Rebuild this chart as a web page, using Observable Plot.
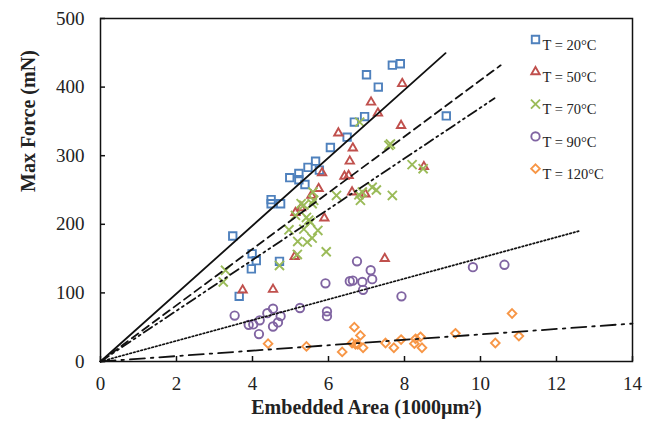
<!DOCTYPE html>
<html><head><meta charset="utf-8">
<script src="https://cdn.jsdelivr.net/npm/d3@7"></script>
<script src="https://cdn.jsdelivr.net/npm/@observablehq/plot@0.6"></script>
<style>body{margin:0;background:#fff}</style>
</head><body><div id="chart"></div>
<script>
// ---- data ----
const seriesNames = ["T = 20°C", "T = 50°C", "T = 70°C", "T = 90°C", "T = 120°C"];
const xTicks = [0, 2, 4, 6, 8, 10, 12, 14];
const yTicks = [0, 100, 200, 300, 400, 500];
const xTitle = "Embedded Area (1000µm²)";
const yTitle = "Max Force (mN)";

const pts20 = [[3.48,183],[3.65,95],[3.99,157],[4.10,147],[3.97,135],[4.49,236],[4.49,230],[4.74,230],[4.71,146],
  [4.98,268],[5.22,274],[5.22,265],[5.38,258],[5.46,283],[5.66,292],[5.76,279],[6.05,312],[6.49,327],[6.68,349],
  [6.95,357],[7.0,418],[7.31,400],[7.68,432],[7.89,434],[9.10,358]];
const pts50 = [[3.74,104],[4.54,105],[5.11,153],[5.13,217],[5.28,224],[5.55,242],[5.74,252],[5.83,275],[5.89,209],
  [6.26,333],[6.42,270],[6.53,271],[6.56,292],[6.62,247],[6.64,311],[6.97,244],[7.12,378],[7.30,362],[7.48,150],
  [7.91,344],[7.94,405],[8.51,284]];
const pts70 = [[3.23,116],[3.29,133],[4.71,140],[4.96,192],[5.18,156],[5.13,213],[5.19,175],[5.28,230],[5.35,228],
  [5.35,193],[5.42,210],[5.44,174],[5.48,206],[5.53,203],[5.57,180],[5.57,230],[5.59,247],[5.61,235],[5.72,191],
  [5.94,160],[6.21,242],[6.80,243],[6.84,235],[6.82,349],[6.89,247],[7.15,254],[7.26,250],[7.59,315],[7.63,317],
  [7.68,242],[8.20,287],[8.49,281]];
const pts90 = [[3.53,67],[3.90,53.5],[4.02,54],[4.19,60],[4.17,40],[4.39,70.5],[4.54,77],[4.54,51],[4.67,57],
  [4.74,66],[5.25,78],[5.92,114],[5.96,73],[5.96,66],[6.56,117],[6.64,118],[6.75,146],[6.89,116],[6.91,104.5],
  [7.11,133],[7.15,120],[7.92,95],[9.80,137.5],[10.63,141]];
const pts120 = [[4.41,26],[5.42,22],[6.36,14],[6.62,27],[6.68,50],[6.71,25],[6.77,25],[6.84,38],[6.91,20],
  [7.50,27],[7.72,20],[7.91,32],[8.26,26],[8.29,33],[8.42,36],[8.46,20],[9.34,41],[10.39,27],[10.83,70],[11.01,37]];

// linear fits through origin: slope and x extent
const fitSlopes = [49.5, 41.0, 37.0, 15.1, 3.95];
const fitEnds = [9.08, 10.53, 10.37, 12.63, 14];

// ---- styles ----
const allPts = [pts20, pts50, pts70, pts90, pts120];
const colors = ["#4f81bd", "#c0504d", "#9bbb59", "#8064a2", "#f79646"];
const symbols = ["square", "triangle", "times", "circle", "diamond2"];
const radii = [4.2, 3.1, 4.2, 4.2, 3.9];
const dashes = [null, "8,5", "10,4,2,4,2,4", "1.6,2.2", "15,6,2.5,6"];
const serif = "'Liberation Serif', 'Times New Roman', serif";

const marks = [];
allPts.forEach((pts, i) => {
  marks.push(Plot.dot(pts, {x: d => d[0], y: d => d[1], symbol: symbols[i], r: radii[i],
    stroke: colors[i], fill: "none", strokeWidth: 1.9}));
});
fitSlopes.forEach((m, i) => {
  const seg = [[0, 0], [fitEnds[i], m * fitEnds[i]]];
  marks.push(Plot.line(seg, {x: d => d[0], y: d => d[1], stroke: "#111", strokeWidth: i === 3 ? 1.7 : 1.8,
    strokeDasharray: dashes[i] || undefined}));
});
// legend
seriesNames.forEach((name, i) => {
  const dy = 21 + 32.3 * i;
  marks.push(Plot.dot([name], {frameAnchor: "top-left", dx: 435, dy, symbol: symbols[i], r: radii[i],
    stroke: colors[i], fill: "none", strokeWidth: 1.9}));
  marks.push(Plot.text([name], {frameAnchor: "top-left", dx: 442, dy, text: d => d, textAnchor: "start",
    fontSize: 14.5, fill: "#222"}));
});
marks.push(Plot.frame({stroke: "#111", strokeWidth: 1.5}));
marks.push(Plot.axisX(xTicks, {tickSize: -5, tickPadding: 20, fontSize: 19, strokeWidth: 1.5, label: null, fill: "#222"}));
marks.push(Plot.axisY(yTicks, {tickSize: -5, tickPadding: 21, fontSize: 19, strokeWidth: 1.5, label: null, fill: "#222"}));
marks.push(Plot.text([xTitle], {frameAnchor: "bottom", dy: 52, text: d => d, fontSize: 20, fontWeight: "bold", fill: "#222"}));
marks.push(Plot.text([yTitle], {frameAnchor: "left", dx: -72, dy: 2, rotate: -90, text: d => d, fontSize: 20, fontWeight: "bold", fill: "#222"}));

const chart = Plot.plot({
  width: 656, height: 425,
  marginLeft: 100, marginRight: 24, marginTop: 18, marginBottom: 64,
  style: {fontFamily: serif, background: "#fff", color: "#111"},
  x: {domain: [0, 14]},
  y: {domain: [0, 500]},
  marks
});
document.getElementById("chart").appendChild(chart);
</script>
</body></html>
